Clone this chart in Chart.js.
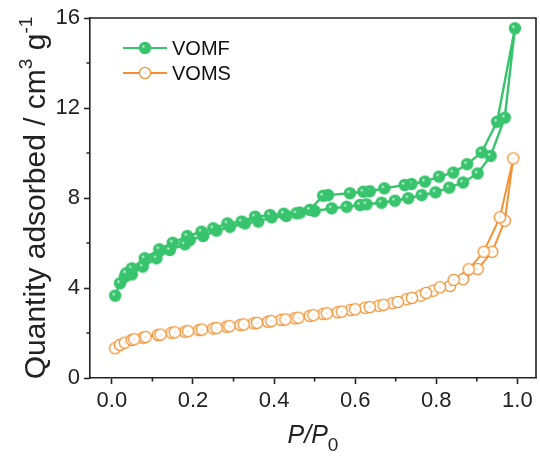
<!DOCTYPE html>
<html>
<head>
<meta charset="utf-8">
<script src="https://cdn.jsdelivr.net/npm/chart.js@4"></script>
<style>
  html, body { margin: 0; padding: 0; background: #fff; }
</style>
</head>
<body>
<canvas id="chart" width="540" height="456"></canvas>
<script>
const seriesNames = ['VOMF', 'VOMS'];
const seriesColors = ['#38c46d', '#f39232'];

// VOMF adsorption / desorption branches (P/P0, cm3 g-1)
const vomfAdsX = [0.008, 0.02, 0.032, 0.049, 0.076, 0.11, 0.143, 0.18, 0.192, 0.225, 0.258, 0.291, 0.328, 0.361, 0.394, 0.43, 0.464, 0.5, 0.542, 0.579, 0.612, 0.628, 0.665, 0.698, 0.731, 0.764, 0.798, 0.832, 0.866, 0.902, 0.934, 0.969, 0.994];
const vomfAdsY = [3.66, 4.21, 4.5, 4.6, 4.95, 5.32, 5.69, 5.94, 6.13, 6.31, 6.55, 6.72, 6.87, 6.95, 7.14, 7.2, 7.35, 7.42, 7.54, 7.61, 7.69, 7.72, 7.79, 7.88, 7.99, 8.13, 8.25, 8.46, 8.69, 9.09, 9.87, 11.57, 15.54];
const vomfDesX = [0.95, 0.912, 0.876, 0.842, 0.807, 0.772, 0.739, 0.722, 0.672, 0.636, 0.62, 0.587, 0.533, 0.521, 0.488, 0.455, 0.424, 0.39, 0.353, 0.32, 0.285, 0.25, 0.221, 0.186, 0.15, 0.117, 0.081, 0.049, 0.035];
const vomfDesY = [11.39, 10.03, 9.5, 9.13, 8.95, 8.73, 8.62, 8.58, 8.43, 8.3, 8.28, 8.21, 8.13, 8.1, 7.47, 7.32, 7.3, 7.24, 7.17, 6.95, 6.87, 6.65, 6.5, 6.31, 6.01, 5.72, 5.32, 4.87, 4.65];

// VOMS adsorption / desorption branches
const vomsAdsX = [0.008, 0.02, 0.032, 0.049, 0.077, 0.114, 0.147, 0.18, 0.215, 0.25, 0.283, 0.317, 0.35, 0.385, 0.418, 0.451, 0.488, 0.521, 0.557, 0.589, 0.624, 0.658, 0.692, 0.727, 0.761, 0.792, 0.834, 0.866, 0.902, 0.938, 0.969, 0.99];
const vomsAdsY = [1.32, 1.47, 1.57, 1.69, 1.79, 1.91, 2.01, 2.06, 2.13, 2.2, 2.28, 2.36, 2.43, 2.5, 2.58, 2.65, 2.76, 2.84, 2.92, 3.02, 3.12, 3.21, 3.32, 3.5, 3.66, 3.88, 4.09, 4.39, 4.84, 5.61, 6.99, 9.76];
const vomsDesX = [0.957, 0.917, 0.88, 0.843, 0.809, 0.775, 0.74, 0.705, 0.67, 0.636, 0.6, 0.567, 0.53, 0.497, 0.46, 0.428, 0.393, 0.358, 0.325, 0.29, 0.258, 0.222, 0.188, 0.155, 0.12, 0.083, 0.055];
const vomsDesY = [7.14, 5.61, 4.83, 4.36, 4.03, 3.78, 3.56, 3.38, 3.25, 3.15, 3.05, 2.95, 2.87, 2.79, 2.68, 2.6, 2.53, 2.45, 2.38, 2.3, 2.22, 2.15, 2.08, 2.03, 1.93, 1.82, 1.72];

const xTicks = [0, 0.2, 0.4, 0.6, 0.8, 1.0];
const xMinorTicks = [0.1, 0.3, 0.5, 0.7, 0.9];
const yTicks = [0, 4, 8, 12, 16];
const yMinorTicks = [2, 6, 10, 14];

const FONT = '"Liberation Sans", Arial, sans-serif';
const INK = '#222';

function toPoints(xs, ys) {
  return xs.map((x, i) => ({ x: x, y: ys[i] }));
}

// filled ball with a small highlight
function ballMarker(color) {
  const c = document.createElement('canvas');
  c.width = c.height = 14;
  const g = c.getContext('2d');
  const grad = g.createRadialGradient(5.3, 5.3, 0, 5.8, 5.8, 4);
  grad.addColorStop(0, '#ffffff');
  grad.addColorStop(0.45, color);
  grad.addColorStop(1, color);
  g.fillStyle = grad;
  g.beginPath();
  g.arc(7, 7, 6.2, 0, Math.PI * 2);
  g.fill();
  return c;
}

// open ring with a tiny centre dot
function ringMarker(color) {
  const c = document.createElement('canvas');
  c.width = c.height = 14;
  const g = c.getContext('2d');
  g.fillStyle = '#fff';
  g.strokeStyle = color;
  g.lineWidth = 1.3;
  g.beginPath();
  g.arc(7, 7, 5.6, 0, Math.PI * 2);
  g.fill();
  g.stroke();
  g.fillStyle = color;
  g.fillRect(6.5, 6.5, 1, 1);
  return c;
}

const markers = [ballMarker(seriesColors[0]), ringMarker(seriesColors[1])];

function drawRich(ctx, parts, size, x, y, align) {
  let total = 0;
  parts.forEach(p => {
    ctx.font = (p.italic ? 'italic ' : '') + Math.round(size * p.scale) + 'px ' + FONT;
    p.w = ctx.measureText(p.text).width;
    total += p.w;
  });
  let cx = align === 'center' ? x - total / 2 : x;
  parts.forEach(p => {
    ctx.font = (p.italic ? 'italic ' : '') + Math.round(size * p.scale) + 'px ' + FONT;
    ctx.fillText(p.text, cx, y + p.dy * size);
    cx += p.w;
  });
}

const decor = {
  id: 'decor',
  afterDraw(chart) {
    const { ctx, chartArea: a, scales: { x, y } } = chart;
    ctx.save();
    ctx.strokeStyle = INK;
    ctx.lineWidth = 1.6;
    ctx.beginPath();
    ctx.moveTo(a.left, a.top);
    ctx.lineTo(a.right, a.top);
    ctx.lineTo(a.right, a.bottom);
    ctx.stroke();

    // minor ticks
    ctx.beginPath();
    xMinorTicks.forEach(v => {
      const px = x.getPixelForValue(v);
      ctx.moveTo(px, a.bottom);
      ctx.lineTo(px, a.bottom + 3.5);
    });
    yMinorTicks.forEach(v => {
      const py = y.getPixelForValue(v);
      ctx.moveTo(a.left, py);
      ctx.lineTo(a.left - 3.5, py);
    });
    ctx.stroke();

    ctx.fillStyle = INK;
    ctx.textBaseline = 'alphabetic';

    // x title
    drawRich(ctx, [
      { text: 'P/P', scale: 1, dy: 0, italic: true },
      { text: '0', scale: 0.75, dy: 0.3 }
    ], 25, (a.left + a.right) / 2, 443, 'center');

    // y title
    ctx.save();
    ctx.translate(45, (a.top + a.bottom) / 2);
    ctx.rotate(-Math.PI / 2);
    drawRich(ctx, [
      { text: 'Quantity adsorbed / cm', scale: 1, dy: 0 },
      { text: '3', scale: 0.62, dy: -0.42 },
      { text: ' g', scale: 1, dy: 0 },
      { text: '-1', scale: 0.62, dy: -0.42 }
    ], 30, 0, 0, 'center');
    ctx.restore();

    // legend
    ctx.font = '20px ' + FONT;
    ctx.textBaseline = 'middle';
    seriesNames.forEach((name, i) => {
      const ly = 48 + i * 25;
      ctx.strokeStyle = seriesColors[i];
      ctx.lineWidth = 2.2;
      ctx.beginPath();
      ctx.moveTo(123, ly);
      ctx.lineTo(167, ly);
      ctx.stroke();
      const m = markers[i];
      ctx.drawImage(m, 145 - m.width / 2, ly - m.height / 2);
      ctx.fillStyle = '#111';
      ctx.fillText(name, 172, ly + 1);
    });
    ctx.restore();
  }
};

const datasets = [
  {
    label: seriesNames[0],
    data: toPoints(vomfAdsX.concat(vomfDesX), vomfAdsY.concat(vomfDesY)),
    borderColor: seriesColors[0],
    borderWidth: 2.4,
    pointStyle: markers[0],
    pointRadius: 1,
    pointHoverRadius: 0,
    pointBorderWidth: 0,
    showLine: true,
    tension: 0
  },
  {
    label: seriesNames[1],
    data: toPoints(vomsAdsX.concat(vomsDesX), vomsAdsY.concat(vomsDesY)),
    borderColor: seriesColors[1],
    borderWidth: 2,
    pointStyle: markers[1],
    pointRadius: 1,
    pointHoverRadius: 0,
    pointBorderWidth: 0,
    showLine: true,
    tension: 0
  }
];

const tickFont = { family: FONT, size: 22 };

new Chart(document.getElementById('chart').getContext('2d'), {
  type: 'scatter',
  data: { datasets: datasets },
  plugins: [decor],
  options: {
    responsive: false,
    animation: false,
    layout: { padding: { top: 18, right: 4, left: 0, bottom: 0 } },
    plugins: { legend: { display: false }, tooltip: { enabled: false } },
    scales: {
      x: {
        type: 'linear',
        min: -0.054,
        max: 1.046,
        afterBuildTicks: s => { s.ticks = xTicks.map(v => ({ value: v })); },
        afterFit: s => { s.height = 78; s.paddingLeft = 0; s.paddingRight = 0; },
        ticks: { callback: v => v.toFixed(1), font: tickFont, color: INK, padding: 4, maxRotation: 0, autoSkip: false },
        grid: { drawOnChartArea: false, drawTicks: true, tickLength: 6, tickWidth: 1.6, tickColor: INK },
        border: { color: INK, width: 1.6 }
      },
      y: {
        type: 'linear',
        min: 0,
        max: 16,
        afterBuildTicks: s => { s.ticks = yTicks.map(v => ({ value: v })); },
        afterFit: s => { s.width = 90; s.paddingTop = 0; s.paddingBottom = 0; },
        ticks: { font: tickFont, color: INK, padding: 4, autoSkip: false },
        grid: { drawOnChartArea: false, drawTicks: true, tickLength: 6, tickWidth: 1.6, tickColor: INK },
        border: { color: INK, width: 1.6 }
      }
    }
  }
});
</script>
</body>
</html>
